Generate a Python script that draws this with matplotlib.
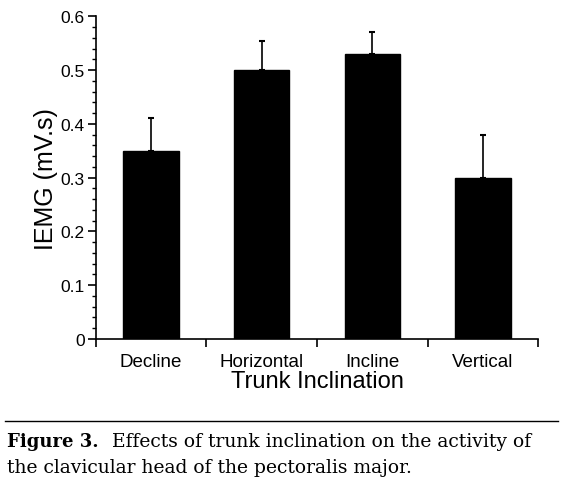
import matplotlib
matplotlib.use("Agg")
import matplotlib.pyplot as plt
from matplotlib.ticker import MultipleLocator, NullFormatter

categories = ["Decline", "Horizontal", "Incline", "Vertical"]
means = [0.35, 0.50, 0.53, 0.30]
errors = [0.06, 0.055, 0.04, 0.08]
y_ticks = [0, 0.1, 0.2, 0.3, 0.4, 0.5, 0.6]
y_tick_labels = ["0", "0.1", "0.2", "0.3", "0.4", "0.5", "0.6"]

plt.rcParams['font.family'] = ['Liberation Sans', 'DejaVu Sans']

fig = plt.figure(figsize=(5.78, 4.85), dpi=100)
ax = fig.add_axes([0.1656, 0.299, 0.7657, 0.6653])

x = list(range(len(categories)))
ax.bar(x, means, width=0.5, color="black", edgecolor="black", zorder=2)
ax.errorbar(x, means, yerr=[[0] * len(errors), errors], fmt="none",
            ecolor="black", elinewidth=1.2, capsize=2.5, capthick=1.5, zorder=1)

ax.set_xlim(-0.5, len(categories) - 0.5)
ax.set_ylim(0, 0.6)
ax.spines['top'].set_visible(False)
ax.spines['right'].set_visible(False)
ax.spines['left'].set_linewidth(1.2)
ax.spines['bottom'].set_linewidth(1.2)

# x: boundary ticks without labels, category labels at centers
ax.set_xticks([i - 0.5 for i in range(len(categories) + 1)])
ax.xaxis.set_major_formatter(NullFormatter())
ax.set_xticks(x, minor=True)
ax.set_xticklabels(categories, minor=True, fontsize=13.5)
ax.tick_params(axis='x', which='major', direction='out', length=6, width=1.2)
ax.tick_params(axis='x', which='minor', length=0, pad=10)

ax.set_yticks(y_ticks)
ax.set_yticklabels(y_tick_labels, fontsize=12.5)
ax.yaxis.set_minor_locator(MultipleLocator(0.02))
ax.tick_params(axis='y', which='major', direction='out', length=6, width=1.2, pad=2)
ax.tick_params(axis='y', which='minor', direction='out', length=3, width=1.0)

ax.set_xlabel("Trunk Inclination", fontsize=17, labelpad=0)
ax.set_ylabel("IEMG (mV.s)", fontsize=18, labelpad=2)

# caption
fig.add_artist(plt.Line2D([5 / 578, 558 / 578], [1 - 421.5 / 485, 1 - 421.5 / 485],
                          color="black", linewidth=1.0))
serif = ['DejaVu Serif', 'Liberation Serif']
fig.text(7 / 578, 1 - 447 / 485, "Figure 3.", fontsize=13, fontweight='bold',
         family=serif, va='baseline', ha='left')
fig.text(112 / 578, 1 - 447 / 485, "Effects of trunk inclination on the activity of",
         fontsize=13.5, family=serif, va='baseline', ha='left')
fig.text(7 / 578, 1 - 473 / 485, "the clavicular head of the pectoralis major.",
         fontsize=13.5, family=serif, va='baseline', ha='left')

fig.savefig("out.png", dpi=100)
